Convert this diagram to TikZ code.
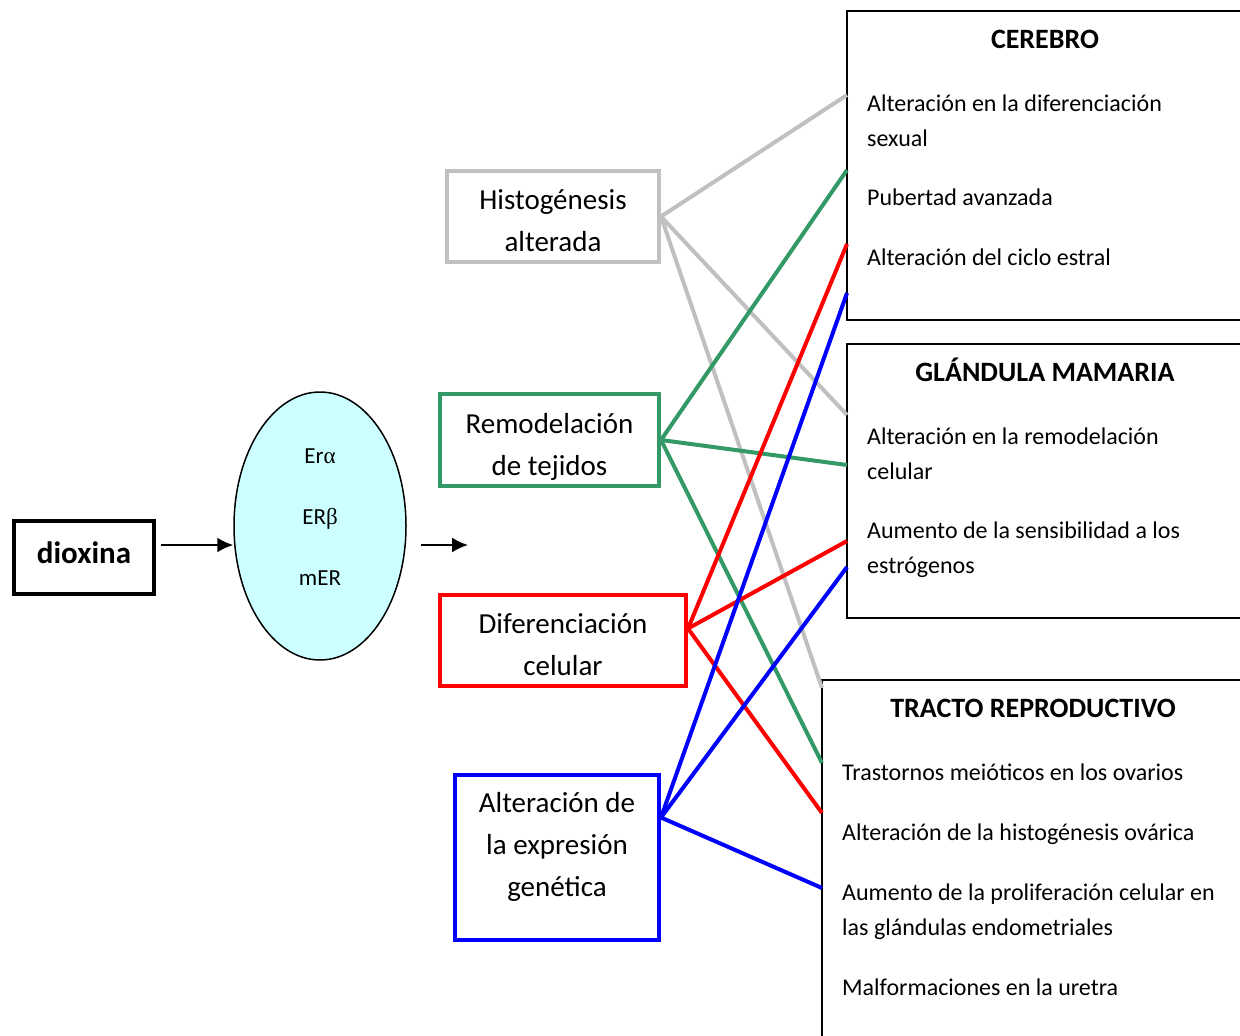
\documentclass[tikz,border=0pt]{standalone}
\usepackage{fontspec}
\setmainfont{Carlito}
\newfontfamily\greekfont{Liberation Serif}
\usetikzlibrary{shapes.geometric,arrows.meta}
\definecolor{histgray}{RGB}{192,192,192}
\definecolor{tissuegreen}{RGB}{51,153,102}
\definecolor{receptorcyan}{RGB}{204,255,255}

\begin{document}
\begin{tikzpicture}[x=1pt,y=-1pt,
  effbox/.style={shape=rectangle,line width=4pt,align=center,inner sep=0pt,font=\fontsize{29}{42}\selectfont},
  organ/.style={shape=rectangle,draw=black,line width=2pt,anchor=north west},
  organtitle/.style={anchor=base,inner sep=0pt,font=\bfseries\fontsize{28}{34}\selectfont},
  item/.style={anchor=base west,align=left,inner sep=0pt,font=\fontsize{24}{35}\selectfont},
  link/.style={line width=4pt},
  arr/.style={-{Latex[length=16pt,width=15pt]},line width=2pt}]
\useasboundingbox (0,0) rectangle (1240,1036);

\node[shape=rectangle,draw=black,line width=4pt,minimum width=140pt,minimum height=73pt,text depth=10pt,font=\bfseries\fontsize{31}{36}\selectfont] (dioxina) at (84,557.5) {dioxina};
\node[shape=ellipse,draw=black,fill=receptorcyan,line width=1.5pt,minimum width=172pt,minimum height=268pt,align=center,text depth=17pt,font=\fontsize{23}{61}\selectfont] (er) at (320,526) {Er{\greekfont α}\\ER{\greekfont β}\\mER};

\node[effbox,draw=histgray,minimum width=212pt,minimum height=91pt,text height=71pt] (hist) at (553,216.5) {Histogénesis\\alterada};
\node[effbox,draw=tissuegreen,minimum width=219pt,minimum height=92pt,text height=75pt] (remod) at (549.5,440) {Remodelación\\de tejidos};
\node[effbox,draw=red,minimum width=246pt,minimum height=91pt,text height=71pt] (dif) at (563,640.5) {Diferenciación\\celular};
\node[effbox,draw=blue,minimum width=204pt,minimum height=165pt,text depth=26pt] (expr) at (557,857.5) {Alteración de\\la expresión\\genética};

% organos
\node[organ,minimum width=396pt,minimum height=309pt] (cerebro) at (846,10) {};
\node[organtitle] (cerebrot) at (1045,48) {CEREBRO};
\node[item] (cer1) at (867,146) {Alteración en la diferenciación\\sexual};
\node[item] (cer2) at (867,205) {Pubertad avanzada};
\node[item] (cer3) at (867,265) {Alteración del ciclo estral};

\node[organ,minimum width=396pt,minimum height=274pt] (mama) at (846,343) {};
\node[organtitle] (mamat) at (1045,381) {GLÁNDULA MAMARIA};
\node[item] (mam1) at (867,479) {Alteración en la remodelación\\celular};
\node[item] (mam2) at (867,573) {Aumento de la sensibilidad a los\\estrógenos};

\node[organ,minimum width=422pt,minimum height=380pt] (tracto) at (821,679) {};
\node[organtitle] (tractot) at (1033,717) {TRACTO REPRODUCTIVO};
\node[item] (tra1) at (842,780) {Trastornos meióticos en los ovarios};
\node[item] (tra2) at (842,840) {Alteración de la histogénesis ovárica};
\node[item] (tra3) at (842,935) {Aumento de la proliferación celular en\\las glándulas endometriales};
\node[item] (tra4) at (842,995) {Malformaciones en la uretra};

\coordinate (inA) at (161,545);
\coordinate (outA) at (421,545);
\coordinate (outB) at (468,545);
\coordinate (c1) at (847,95);
\coordinate (c2) at (847,170);
\coordinate (c3) at (847,244);
\coordinate (c4) at (847,293);
\coordinate (m1) at (847,415);
\coordinate (m2) at (847,465);
\coordinate (m3) at (847,541);
\coordinate (m4) at (847,567);
\coordinate (t1) at (822,688);
\coordinate (t2) at (822,763);
\coordinate (t3) at (822,813);
\coordinate (t4) at (822,888);

\draw[arr] (inA) -- (er.west |- inA);
\draw[arr] (outA) -- (outB);

\path [link,draw=histgray] (hist.east) edge (c1);
\path [link,draw=histgray] (hist.east) edge (m1);
\path [link,draw=histgray] (hist.east) edge (t1);
\path [link,draw=tissuegreen] (remod.east) edge (c2);
\path [link,draw=tissuegreen] (remod.east) edge (m2);
\path [link,draw=tissuegreen] (remod.east) edge (t2);
\path [link,draw=red] ([yshift=12pt]dif.east) edge (c3);
\path [link,draw=red] ([yshift=12pt]dif.east) edge (m3);
\path [link,draw=red] ([yshift=12pt]dif.east) edge (t3);
\path [link,draw=blue] ([yshift=40pt]expr.east) edge (c4);
\path [link,draw=blue] ([yshift=40pt]expr.east) edge (m4);
\path [link,draw=blue] ([yshift=40pt]expr.east) edge (t4);
\end{tikzpicture}
\end{document}
